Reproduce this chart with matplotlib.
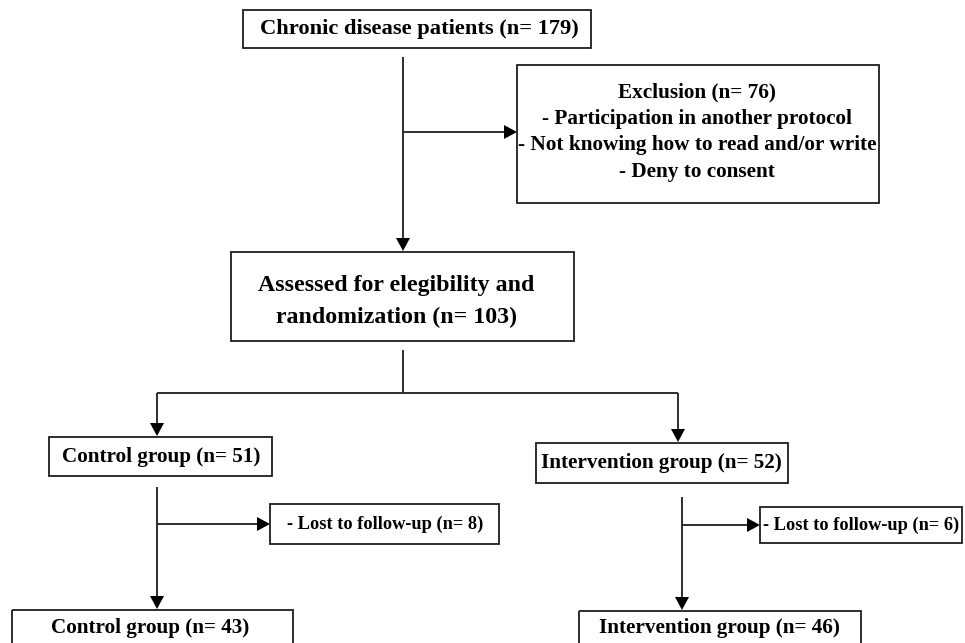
import matplotlib.pyplot as plt
from matplotlib.patches import Rectangle

# counts at each stage of the study
total_n = 179
excluded_n = 76
randomized_n = 103
group_names = ['Control group', 'Intervention group']
allocated_n = [51, 52]
lost_n = [8, 6]
analysed_n = [43, 46]
exclusion_reasons = ['Participation in another protocol',
                     'Not knowing how to read and/or write',
                     'Deny to consent']

plt.rcParams['font.family'] = ['Liberation Serif', 'DejaVu Serif']
LC = '#1e1e1e'
LW = 1.3

fig = plt.figure(figsize=(9.65, 6.43), dpi=100)
ax = fig.add_axes([0, 0, 1, 1])
ax.set_xlim(0, 965)
ax.set_ylim(643, 0)
ax.axis('off')


def box(x0, y0, x1, y1):
    ax.add_patch(Rectangle((x0, y0), x1 - x0, y1 - y0, fill=False,
                           edgecolor=LC, lw=LW))


def label(x, y, s, size):
    ax.text(x, y, s, ha='center', va='center', fontsize=size,
            fontweight='bold', color='black')


def line(xs, ys):
    ax.plot(xs, ys, color=LC, lw=LW, solid_capstyle='butt')


def arrow(x0, y0, x1, y1, hl=13, hw=7):
    # line plus a filled triangle head ending at (x1, y1)
    if x0 == x1:
        d = 1 if y1 > y0 else -1
        line([x0, x1], [y0, y1 - d * hl])
        ax.fill([x1 - hw, x1 + hw, x1], [y1 - d * hl, y1 - d * hl, y1],
                color='black', lw=0)
    else:
        d = 1 if x1 > x0 else -1
        line([x0, x1 - d * hl], [y0, y1])
        ax.fill([x1 - d * hl, x1 - d * hl, x1], [y1 - hw, y1 + hw, y1],
                color='black', lw=0)


# enrolment
box(243, 10, 591, 48)
label(419, 29, f'Chronic disease patients (n= {total_n})', 16.2)

line([403, 403], [57, 132])
arrow(403, 132, 403, 251)
arrow(403, 132, 517, 132)

box(517, 65, 879, 203)
excl_lines = [f'Exclusion (n= {excluded_n})'] + ['- ' + r for r in exclusion_reasons]
for i, s in enumerate(excl_lines):
    label(697, 92 + i * 26.7, s, 15.3)

box(231, 252, 574, 341)
label(396, 285, 'Assessed for elegibility and', 17.2)
label(396, 317, f'randomization (n= {randomized_n})', 17.2)

# allocation
line([403, 403], [350, 393])
line([157, 678], [393, 393])
arrow(157, 393, 157, 436)
arrow(678, 393, 678, 442)

box(49, 437, 272, 476)
label(161, 457, f'{group_names[0]} (n= {allocated_n[0]})', 15.2)
box(536, 443, 788, 483)
label(661, 463, f'{group_names[1]} (n= {allocated_n[1]})', 15.2)

# follow-up
arrow(157, 487, 157, 609)
arrow(157, 524, 270, 524)
box(270, 504, 499, 544)
label(385, 524, f'- Lost to follow-up (n= {lost_n[0]})', 13.2)

arrow(682, 497, 682, 610)
arrow(682, 525, 760, 525)
box(760, 507, 962, 543)
label(861, 525, f'- Lost to follow-up (n= {lost_n[1]})', 13.2)

# analysis
box(12, 610, 293, 670)
label(150, 628, f'{group_names[0]} (n= {analysed_n[0]})', 15.2)
box(579, 611, 861, 670)
label(719, 628, f'{group_names[1]} (n= {analysed_n[1]})', 15.2)

fig.savefig('out.png', dpi=100, facecolor='white')
